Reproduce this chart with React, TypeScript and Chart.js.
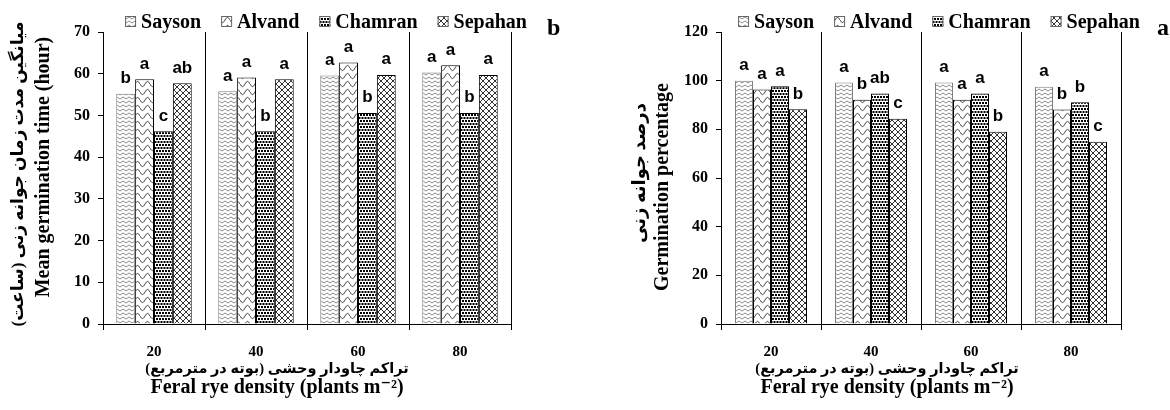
import React, { useEffect, useRef } from "react";
import { Chart, registerables } from "chart.js";

Chart.register(...registerables);

// ---------------- data ----------------
const densities = ["20", "40", "60", "80"];
const cultivars = ["Sayson", "Alvand", "Chamran", "Sepahan"];

// Mean germination time (hour)  – panel b
const mgtSayson = [55.2, 55.8, 59.6, 60.3];
const mgtAlvand = [58.7, 59.1, 62.7, 62.0];
const mgtChamran = [46.2, 46.2, 50.6, 50.6];
const mgtSepahan = [57.7, 58.7, 59.7, 59.7];
const mgtLettersSayson = ["b", "a", "a", "a"];
const mgtLettersAlvand = ["a", "a", "a", "a"];
const mgtLettersChamran = ["c", "b", "b", "b"];
const mgtLettersSepahan = ["ab", "a", "a", "a"];

// Germination percentage – panel a
const gpSayson = [100, 99.2, 99.2, 97.5];
const gpAlvand = [96.4, 92.2, 92.2, 88.2];
const gpChamran = [97.7, 94.7, 94.7, 91.1];
const gpSepahan = [88.3, 84.4, 79.0, 74.9];
const gpLettersSayson = ["a", "a", "a", "a"];
const gpLettersAlvand = ["a", "b", "a", "b"];
const gpLettersChamran = ["a", "ab", "a", "b"];
const gpLettersSepahan = ["b", "c", "b", "c"];

const RLM = "\u200F";
const mgtTitleFa = "میانگین مدت زمان جوانه زنی (ساعت)" + RLM;
const mgtTitleEn = "Mean germination time (hour)";
const gpTitleFa = "درصد جوانه زنی" + RLM;
const gpTitleEn = "Germination percentage";
const xTitleFa = "تراکم چاودار وحشی (بوته در مترمربع)" + RLM;
const xTitleEn = "Feral rye density (plants m\u207B\u00B2)";

// ---------------- styling ----------------
const SERIF = "'Liberation Serif', 'Times New Roman', 'DejaVu Sans', serif";
const SANS = "'Liberation Sans', Arial, sans-serif";

function tile(w: number, h: number, draw: (g: CanvasRenderingContext2D) => void) {
  const c = document.createElement("canvas");
  c.width = w;
  c.height = h;
  const g = c.getContext("2d") as CanvasRenderingContext2D;
  g.fillStyle = "#fff";
  g.fillRect(0, 0, w, h);
  draw(g);
  return g.createPattern(c, "repeat") as CanvasPattern;
}

function makePatterns() {
  const sayson = tile(6, 4, (g) => {
    g.strokeStyle = "#8c8c8c";
    g.lineWidth = 1;
    g.beginPath();
    g.moveTo(0, 3);
    g.lineTo(3, 1);
    g.lineTo(6, 3);
    g.stroke();
  });
  const alvand = tile(10, 8, (g) => {
    g.strokeStyle = "#333";
    g.lineWidth = 1;
    g.beginPath();
    for (let i = 0; i <= 20; i++) {
      const x = i * 0.5;
      const y = 4 + 2.6 * Math.sin((x / 10) * Math.PI * 2);
      if (i === 0) g.moveTo(x, y);
      else g.lineTo(x, y);
    }
    g.stroke();
  });
  const chamran = tile(6, 6, (g) => {
    g.fillStyle = "#000";
    g.fillRect(0, 0, 2, 2);
    g.fillRect(3, 0, 2, 2);
    g.fillRect(1.5, 3, 2, 2);
    g.fillRect(4.5, 3, 2, 2);
    g.fillRect(-1.5, 3, 2, 2);
  });
  const sepahan = tile(6, 6, (g) => {
    g.strokeStyle = "#333";
    g.lineWidth = 1;
    g.beginPath();
    g.moveTo(-1, -1);
    g.lineTo(7, 7);
    g.moveTo(7, -1);
    g.lineTo(-1, 7);
    g.stroke();
  });
  return [sayson, alvand, chamran, sepahan];
}

const borderColors = ["#7f7f7f", "#000", "#000", "#000"];

interface PanelParams {
  values: number[][];
  letters: string[][];
  max: number;
  step: number;
  yWidth: number;
  padRight: number;
  titleFa: string;
  titleEn: string;
  titleFaSize: number;
  titleFaX: number;
  titleFaY: number;
  titleEnX: number;
  titleEnY: number;
  legendCx: number;
  xTitleCx: number;
  tag: string;
  tagX: number;
  catPct: number;
}

function buildChart(canvas: HTMLCanvasElement, p: PanelParams) {
  const patterns = makePatterns();

  const lettersPlugin = {
    id: "barLetters",
    afterDatasetsDraw(chart: any) {
      const ctx = chart.ctx as CanvasRenderingContext2D;
      ctx.save();
      ctx.font = `bold 17px ${SANS}`;
      ctx.fillStyle = "#000";
      ctx.textAlign = "center";
      ctx.textBaseline = "alphabetic";
      chart.data.datasets.forEach((_: any, i: number) => {
        const meta = chart.getDatasetMeta(i);
        meta.data.forEach((bar: any, j: number) => {
          ctx.fillText(p.letters[i][j], bar.x, bar.y - 10.5);
        });
      });
      ctx.restore();
    },
  };

  const legendPlugin = {
    id: "patternLegend",
    afterDraw(chart: any) {
      const ctx = chart.ctx as CanvasRenderingContext2D;
      ctx.save();
      ctx.font = `bold 20px ${SERIF}`;
      const box = 11;
      const gapBox = 5;
      const gapItem = 20;
      const ds = chart.data.datasets;
      const widths = ds.map((d: any) => box + gapBox + ctx.measureText(d.label).width);
      const total = widths.reduce((a: number, b: number) => a + b, 0) + gapItem * (ds.length - 1);
      let x = p.legendCx - total / 2;
      ds.forEach((d: any, i: number) => {
        ctx.fillStyle = d.backgroundColor;
        ctx.fillRect(x, 16, box, box);
        ctx.strokeStyle = "#666";
        ctx.lineWidth = 1;
        ctx.strokeRect(x + 0.5, 16.5, box - 1, box - 1);
        ctx.fillStyle = "#000";
        ctx.textAlign = "left";
        ctx.textBaseline = "alphabetic";
        ctx.fillText(d.label, x + box + gapBox, 27.5);
        x += widths[i] + gapItem;
      });
      ctx.restore();
    },
  };

  const titlesPlugin = {
    id: "axisTitles",
    afterDraw(chart: any) {
      const ctx = chart.ctx as CanvasRenderingContext2D;
      ctx.save();
      ctx.fillStyle = "#000";
      ctx.textAlign = "center";
      ctx.textBaseline = "alphabetic";
      // x-axis titles
      ctx.font = `bold 14.5px ${SERIF}`;
      ctx.fillText(xTitleFa, p.xTitleCx, 373);
      ctx.font = `bold 20px ${SERIF}`;
      ctx.fillText(xTitleEn, p.xTitleCx, 393);
      // y-axis titles (rotated)
      ctx.textBaseline = "middle";
      ctx.save();
      ctx.translate(p.titleFaX, p.titleFaY);
      ctx.rotate(-Math.PI / 2);
      ctx.font = `bold ${p.titleFaSize}px ${SERIF}`;
      ctx.fillText(p.titleFa, 0, 0);
      ctx.restore();
      ctx.save();
      ctx.translate(p.titleEnX, p.titleEnY);
      ctx.rotate(-Math.PI / 2);
      ctx.font = `bold 20px ${SERIF}`;
      ctx.fillText(p.titleEn, 0, 0);
      ctx.restore();
      // panel tag
      ctx.textBaseline = "alphabetic";
      ctx.font = `bold 24px ${SERIF}`;
      ctx.textAlign = "left";
      ctx.fillText(p.tag, p.tagX, 35);
      ctx.restore();
    },
  };

  return new Chart(canvas, {
    type: "bar",
    data: {
      labels: densities,
      datasets: cultivars.map((name, i) => ({
        label: name,
        data: p.values[i],
        backgroundColor: patterns[i] as any,
        borderColor: borderColors[i],
        borderWidth: 1,
        categoryPercentage: p.catPct,
        barPercentage: 1,
      })),
    },
    options: {
      responsive: false,
      animation: false,
      events: [],
      layout: { padding: { top: 32, right: p.padRight, left: 0, bottom: 0 } },
      plugins: {
        legend: { display: false },
        tooltip: { enabled: false },
      },
      scales: {
        x: {
          grid: {
            color: "#000",
            lineWidth: 1,
            tickLength: 6,
            offset: true,
            drawOnChartArea: true,
          },
          border: { color: "#000", width: 1 },
          ticks: {
            font: { family: SERIF, size: 15, weight: "bold" },
            color: "#000",
            padding: 13,
          },
          afterFit: (s: any) => {
            s.height = 86;
          },
        },
        y: {
          min: 0,
          max: p.max,
          ticks: {
            stepSize: p.step,
            font: { family: SERIF, size: 16, weight: "bold" },
            color: "#000",
            padding: 8,
          },
          grid: { drawOnChartArea: false, tickLength: 5, color: "#000" },
          border: { color: "#000", width: 1 },
          afterFit: (s: any) => {
            s.width = p.yWidth;
          },
        },
      },
    } as any,
    plugins: [lettersPlugin, legendPlugin, titlesPlugin],
  });
}

const leftParams: PanelParams = {
  values: [mgtSayson, mgtAlvand, mgtChamran, mgtSepahan],
  letters: [mgtLettersSayson, mgtLettersAlvand, mgtLettersChamran, mgtLettersSepahan],
  max: 70,
  step: 10,
  yWidth: 103,
  padRight: 69,
  titleFa: mgtTitleFa,
  titleEn: mgtTitleEn,
  titleFaSize: 17,
  titleFaX: 19,
  titleFaY: 174,
  titleEnX: 44,
  titleEnY: 167,
  legendCx: 326,
  xTitleCx: 277,
  tag: "b",
  tagX: 547,
  catPct: 0.74,
};

const rightParams: PanelParams = {
  values: [gpSayson, gpAlvand, gpChamran, gpSepahan],
  letters: [gpLettersSayson, gpLettersAlvand, gpLettersChamran, gpLettersSepahan],
  max: 120,
  step: 20,
  yWidth: 141,
  padRight: 49,
  titleFa: gpTitleFa,
  titleEn: gpTitleEn,
  titleFaSize: 18,
  titleFaX: 60,
  titleFaY: 173,
  titleEnX: 83,
  titleEnY: 187,
  legendCx: 359,
  xTitleCx: 307,
  tag: "a",
  tagX: 577,
  catPct: 0.72,
};

export default function App() {
  const leftRef = useRef<HTMLCanvasElement>(null);
  const rightRef = useRef<HTMLCanvasElement>(null);

  useEffect(() => {
    const c1 = buildChart(leftRef.current as HTMLCanvasElement, leftParams);
    const c2 = buildChart(rightRef.current as HTMLCanvasElement, rightParams);
    return () => {
      c1.destroy();
      c2.destroy();
    };
  }, []);

  return (
    <div
      style={{
        position: "absolute",
        left: 0,
        top: 0,
        width: 1170,
        height: 410,
        overflow: "hidden",
        background: "#fff",
      }}
    >
      <canvas
        ref={leftRef}
        width={580}
        height={410}
        style={{ position: "absolute", left: 0, top: 0, width: 580, height: 410 }}
      />
      <canvas
        ref={rightRef}
        width={590}
        height={410}
        style={{ position: "absolute", left: 580, top: 0, width: 590, height: 410 }}
      />
    </div>
  );
}
